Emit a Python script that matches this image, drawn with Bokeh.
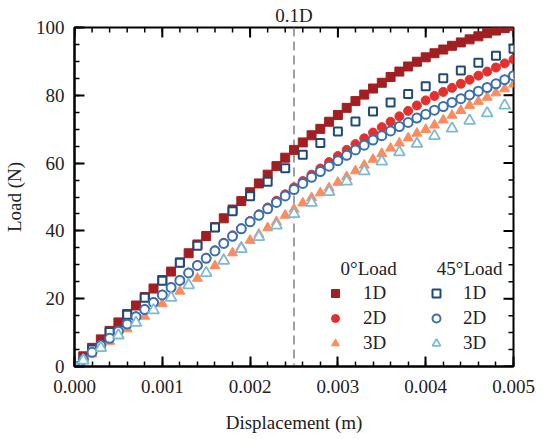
import math
from bokeh.plotting import figure
from bokeh.models import (Span, Label, Title, Legend, LegendItem, FixedTicker, NumeralTickFormatter,
                          Range1d)
from bokeh.embed import file_html
from bokeh.resources import INLINE

# ---------------- data ----------------
disp_0_1d = [round(i * 0.0001, 4) for i in range(51)]
load_0_1d = [0, 3.0, 5.5, 8.0, 10.5, 13.0, 15.5, 18.0, 20.5, 23.0, 25.5, 28.0, 30.7, 33.4, 36.0,
             38.5, 41.1, 43.7, 46.3, 48.8, 51.4, 54.0, 56.6, 59.1, 61.6, 63.9, 66.1, 68.2, 70.1,
             72.2, 74.2, 76.3, 78.3, 80.2, 82.0, 83.7, 85.4, 87.0, 88.5, 89.9, 91.2, 92.4, 93.5,
             94.6, 95.6, 96.5, 97.4, 98.3, 99.1, 99.8, 100.5]

disp_0_2d = [round(i * 0.0001, 4) for i in range(51)]
load_0_2d = [0, 2.1, 4.2, 6.3, 8.4, 10.5, 12.6, 14.8, 16.9, 19.0, 21.2, 23.4, 25.5, 27.7, 29.9,
             32.1, 34.3, 36.5, 38.7, 40.8, 42.9, 44.9, 46.9, 48.9, 50.8, 52.8, 54.7, 56.6, 58.4,
             60.3, 62.1, 63.9, 65.6, 67.3, 69.0, 70.6, 72.2, 73.8, 75.4, 77.0, 78.5, 79.8, 81.0,
             82.2, 83.4, 84.6, 85.8, 87.0, 88.2, 89.4, 90.6]

disp_0_3d = [round(i * 0.0001, 4) for i in range(51)]
load_0_3d = [0, 1.8, 3.7, 5.5, 7.4, 9.2, 11.1, 12.9, 14.8, 16.6, 18.5, 20.4, 22.2, 24.1, 26.0,
             27.8, 29.7, 31.6, 33.5, 35.3, 37.2, 39.0, 40.9, 42.7, 44.6, 46.4, 48.2, 49.8, 51.2,
             52.7, 54.3, 56.0, 57.7, 59.4, 61.1, 62.8, 64.4, 65.9, 67.4, 68.8, 69.9, 71.2, 72.7,
             74.1, 75.5, 77.0, 78.2, 79.4, 80.7, 81.9, 83.3]

disp_45_1d = [round(i * 0.0002, 4) for i in range(26)]
load_45_1d = [0, 5.0, 10.2, 15.3, 20.3, 25.3, 30.6, 35.6, 41.0, 45.8, 50.2, 54.5, 58.5, 62.5,
              65.9, 69.3, 72.3, 75.2, 77.9, 80.4, 82.7, 85.0, 87.3, 89.6, 91.7, 93.7]

disp_45_2d = [round(i * 0.0001, 4) for i in range(51)]
load_45_2d = [0, 2.1, 4.2, 6.2, 8.3, 10.4, 12.5, 14.7, 16.8, 18.9, 21.1, 23.3, 25.4, 27.6, 29.8,
              31.9, 34.1, 36.3, 38.4, 40.6, 42.7, 44.6, 46.5, 48.4, 50.3, 52.2, 54.0, 55.8, 57.5,
              59.1, 60.7, 62.3, 63.9, 65.3, 66.8, 68.1, 69.5, 70.8, 72.0, 73.3, 74.4, 75.6, 76.7,
              77.9, 79.0, 80.1, 81.2, 82.3, 83.4, 84.6, 85.8]

disp_45_3d = [0] + [round(0.0001 + i * 0.0002, 4) for i in range(25)]
load_45_3d = [0, 1.8, 5.5, 9.2, 12.9, 16.6, 20.3, 24.0, 27.6, 31.2, 34.7, 38.2, 41.6, 45.0,
              48.3, 51.5, 54.6, 57.6, 60.5, 63.2, 65.7, 68.0, 70.2, 72.5, 74.7, 77.0]

x_range_lim = [0, 0.005]
y_range_lim = [0, 100]
x_major_ticks = [0, 0.001, 0.002, 0.003, 0.004, 0.005]
x_minor_ticks = [round(i * 0.0002, 4) for i in range(26)]
y_major_ticks = [0, 20, 40, 60, 80, 100]
y_minor_ticks = list(range(0, 101, 5))

marker_line_label = 0.0025   # displacement of the 0.1D line (middle of the x range)
marker_line_text = "0.1D"
group_titles = ["0°Load", "45°Load"]
series_labels = ["1D", "2D", "3D"]

# ---------------- figure ----------------
FONT = "Liberation Serif"
FS = "19px"
TXT = "#222222"

p = figure(width=540, height=436, x_range=Range1d(*x_range_lim), y_range=Range1d(*y_range_lim),
           output_backend="svg", toolbar_location=None,
           min_border_left=68, min_border_right=27, min_border_top=26, min_border_bottom=70)
p.background_fill_color = "white"
p.border_fill_color = "white"
p.grid.visible = False
p.outline_line_color = "black"
p.outline_line_width = 2

# "0.1D" caption above the dashed line (the line sits at the centre of the x range)
p.add_layout(Title(text=marker_line_text, align="center", vertical_align="bottom", standoff=4,
                   text_font=FONT, text_font_size=FS, text_font_style="normal",
                   text_color=TXT), "above")

xt = FixedTicker(ticks=x_major_ticks, minor_ticks=x_minor_ticks)
yt = FixedTicker(ticks=y_major_ticks, minor_ticks=y_minor_ticks)

for ax in (p.xaxis[0], p.yaxis[0]):
    ax.axis_line_width = 2
    ax.axis_line_color = "black"
    ax.major_tick_in = 10
    ax.major_tick_out = 0
    ax.minor_tick_in = 5
    ax.minor_tick_out = 0
    ax.major_tick_line_width = 2
    ax.minor_tick_line_width = 1.5
    ax.major_tick_line_color = "black"
    ax.minor_tick_line_color = "black"
    ax.major_label_text_font = FONT
    ax.major_label_text_font_size = FS
    ax.major_label_text_color = TXT
    ax.axis_label_text_font = FONT
    ax.axis_label_text_font_size = FS
    ax.axis_label_text_font_style = "normal"
    ax.axis_label_text_color = TXT

p.xaxis.ticker = xt
p.yaxis.ticker = yt
p.xaxis.formatter = NumeralTickFormatter(format="0.000")
p.yaxis.formatter = NumeralTickFormatter(format="0")
p.xaxis.axis_label = "Displacement (m)"
p.yaxis.axis_label = "Load (N)"
p.xaxis.major_label_standoff = 13
p.xaxis.axis_label_standoff = 16
p.yaxis.major_label_standoff = 10
p.yaxis.axis_label_standoff = 8

# mirrored inward ticks on the top and right frame edges (half of each dash is clipped away)
p.scatter(x_major_ticks, [y_range_lim[1]] * len(x_major_ticks), marker="dash", size=20,
          angle=math.pi / 2, line_color="black", line_width=2)
p.scatter(x_minor_ticks, [y_range_lim[1]] * len(x_minor_ticks), marker="dash", size=10,
          angle=math.pi / 2, line_color="black", line_width=1.5)
p.scatter([x_range_lim[1]] * len(y_major_ticks), y_major_ticks, marker="dash", size=20,
          line_color="black", line_width=2)
p.scatter([x_range_lim[1]] * len(y_minor_ticks), y_minor_ticks, marker="dash", size=10,
          line_color="black", line_width=1.5)

# dashed reference line
p.add_layout(Span(location=marker_line_label, dimension="height", line_color="#808080",
                  line_dash="9 5", line_width=1.5, level="underlay"))

# series
c01, c02, c03 = "#A11F22", "#E3302E", "#FF8A5C"
c41, c42, c43 = "#1F4A7A", "#3A70B0", "#7DBAD3"

r01 = p.scatter(disp_0_1d, load_0_1d, marker="square", size=9, fill_color=c01, line_color=c01)
r02 = p.scatter(disp_0_2d, load_0_2d, marker="circle", size=9, fill_color=c02, line_color=c02)
r03 = p.scatter(disp_0_3d, load_0_3d, marker="triangle", size=10, fill_color=c03, line_color=c03)
r41 = p.scatter(disp_45_1d, load_45_1d, marker="square", size=8, fill_color="white",
                line_color=c41, line_width=2)
r42 = p.scatter(disp_45_2d, load_45_2d, marker="circle", size=9, fill_color="white",
                line_color=c42, line_width=2)
r43 = p.scatter(disp_45_3d, load_45_3d, marker="triangle", size=11, fill_color="white",
                line_color=c43, line_width=1.8)


def make_legend(rs, loc, standoff):
    return Legend(items=[LegendItem(label=l, renderers=[r]) for l, r in zip(series_labels, rs)],
                  location=loc, orientation="vertical", glyph_width=20, glyph_height=22,
                  label_height=22, spacing=3, padding=0, margin=0, label_standoff=standoff,
                  border_line_color=None, background_fill_alpha=0,
                  label_text_font=FONT, label_text_font_size=FS, label_text_color=TXT)


p.add_layout(make_legend([r01, r02, r03], (251, 12), 18))
p.add_layout(make_legend([r41, r42, r43], (352, 12), 17))

p.add_layout(Label(x=0.00335, y=28.8, text=group_titles[0], text_align="center",
                   text_baseline="middle", text_font=FONT, text_font_size=FS, text_color=TXT))
p.add_layout(Label(x=0.0045, y=28.8, text=group_titles[1], text_align="center",
                   text_baseline="middle", text_font=FONT, text_font_size=FS, text_color=TXT))

open("out.html", "w").write(file_html(p, INLINE))
